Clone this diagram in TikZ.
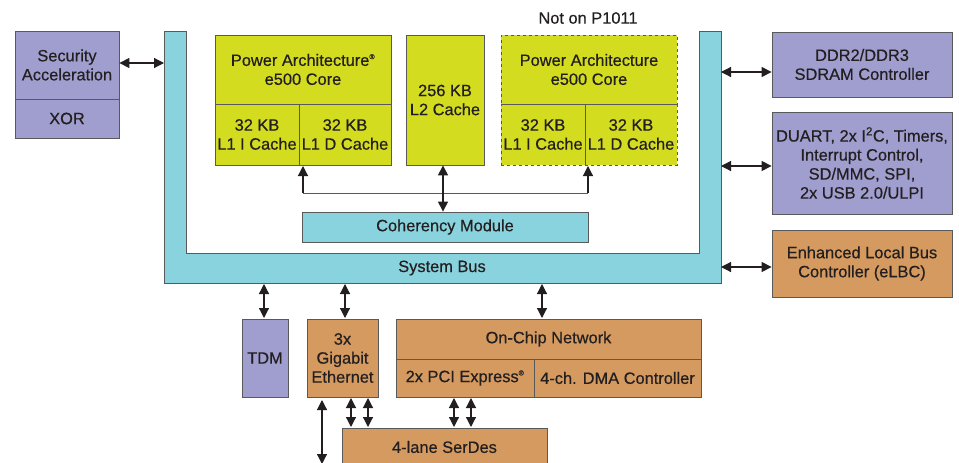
\documentclass[tikz,border=0pt]{standalone}
\usepackage{fontspec}
\setmainfont{Liberation Sans}[BoldFont=Liberation Sans, BoldFeatures={FakeBold=0.5}]
\usetikzlibrary{arrows.meta,calc}
\definecolor{lav}{RGB}{160,158,207}
\definecolor{cyn}{RGB}{137,211,222}
\definecolor{lime}{RGB}{212,220,32}
\definecolor{tan}{RGB}{212,154,96}
\definecolor{txt}{RGB}{35,31,32}
\definecolor{edge}{RGB}{88,89,91}
\newcommand\myfs{\fontsize{16.4}{19}\selectfont\bfseries}
\tikzset{
  blk/.style={draw=edge, line width=0.8pt, inner sep=0pt, align=center, text=txt, font=\myfs},
  lavbox/.style={blk, fill=lav},
  cynbox/.style={blk, fill=cyn},
  limebox/.style={blk, fill=lime},
  tanbox/.style={blk, fill=tan},
  dbl/.style={{Triangle[length=10pt,width=10pt]}-{Triangle[length=10pt,width=10pt]}, line width=1.2pt, draw=txt},
  sgl/.style={-{Triangle[length=10pt,width=10pt]}, line width=1.2pt, draw=txt},
}
\begin{document}
\begin{tikzpicture}[x=1pt,y=-1pt]
\useasboundingbox (0,0) rectangle (959,463);
% system bus
\draw[draw=edge, line width=0.8pt, fill=cyn] (164,31) -- (186,31) -- (186,253) -- (699,253) -- (699,31) -- (721,31) -- (721,283) -- (164,283) -- cycle;
\node[text=txt, font=\myfs] (bus) at (442,268) {System Bus};
\coordinate (busL) at (164,63);
\coordinate (busR1) at (721,72);
\coordinate (busR2) at (721,166);
\coordinate (busR3) at (721,267);
% left
\node[lavbox, minimum width=104pt, minimum height=68pt] (sec) at (67,65) {Security\\Acceleration};
\node[lavbox, minimum width=104pt, minimum height=39pt] (xor) at (67,118.5) {XOR};
% core 1
\node[limebox, minimum width=176pt, minimum height=69pt] (core1) at (303,69.5) {Power Architecture\textsuperscript{\raisebox{0.5pt}{\scriptsize\textregistered}}\\e500 Core};
\node[limebox, minimum width=84pt, minimum height=61pt] (c1i) at (257,134.5) {32 KB\\L1 I Cache};
\node[limebox, minimum width=92pt, minimum height=61pt] (c1d) at (345,134.5) {32 KB\\L1 D Cache};
% L2
\node[limebox, minimum width=78pt, minimum height=130pt] (l2) at (445,100) {256 KB\\L2 Cache};
% core 2
\node[text=txt, font=\myfs] (notp) at (588,18) {Not on P1011};
\node[limebox, dashed, minimum width=176pt, minimum height=69pt] (core2) at (589,69.5) {Power Architecture\\e500 Core};
\node[limebox, dashed, minimum width=84pt, minimum height=61pt] (c2i) at (543,134.5) {32 KB\\L1 I Cache};
\node[limebox, dashed, minimum width=92pt, minimum height=61pt] (c2d) at (631,134.5) {32 KB\\L1 D Cache};
\draw[draw=edge, line width=0.8pt] (585,104) -- (585,165);
\draw[draw=edge, line width=0.8pt] (501,104) -- (677,104);
% coherency
\node[cynbox, minimum width=286pt, minimum height=30pt] (coh) at (445,227) {Coherency Module};
% right
\node[lavbox, minimum width=180pt, minimum height=65pt] (ddr) at (862,64.5) {DDR2/DDR3\\SDRAM Controller};
\node[lavbox, minimum width=180pt, minimum height=102pt] (duart) at (862,163) {DUART, 2x I\textsuperscript{2}C, Timers,\\Interrupt Control,\\SD/MMC, SPI,\\2x USB 2.0/ULPI};
\node[tanbox, minimum width=180pt, minimum height=67pt] (elbc) at (862,263.5) {Enhanced Local Bus\\Controller (eLBC)};
% bottom
\node[lavbox, minimum width=46pt, minimum height=78pt] (tdm) at (265,358) {TDM};
\node[tanbox, minimum width=71pt, minimum height=78pt] (eth) at (342.5,358) {3x\\Gigabit\\Ethernet};
\node[tanbox, minimum width=305pt, minimum height=40pt] (ocn) at (548.5,339) {On-Chip Network};
\node[tanbox, minimum width=138pt, minimum height=38pt] (pci) at (465,378) {2x PCI Express\textsuperscript{\raisebox{0.5pt}{\scriptsize\textregistered}}};
\node[tanbox, minimum width=167pt, minimum height=38pt] (dma) at (617.5,378) {4-ch. DMA Controller};
\node[tanbox, minimum width=205pt, minimum height=38pt] (serdes) at (444.5,447) {4-lane SerDes};
\coordinate (ext) at (322,464);
% connectors
\draw[dbl] (sec.east |- busL) -- (busL);
\draw[dbl] (busR1) -- (busR1 -| ddr.west);
\draw[dbl] (busR2) -- (busR2 -| duart.west);
\draw[dbl] (busR3) -- (busR3 -| elbc.west);
\draw[dbl] (264,284) -- (264,318);
\draw[dbl] (345,284) -- (345,318);
\draw[dbl] (542,284) -- (542,318);
\draw[dbl] (351,398) -- (351,427);
\draw[dbl] (368,398) -- (368,427);
\draw[dbl] (454,398) -- (454,427);
\draw[dbl] (471,398) -- (471,427);
\draw[dbl] (322,400) -- (ext);
% coherency connectors
\coordinate (hl) at (303,193);
\coordinate (hr) at (588,193);
\draw[line width=0.9pt, draw=edge] (hl) -- (hr);
\draw[sgl] (hl) -- (303,166);
\draw[sgl] (hr) -- (588,166);
\draw[dbl] (l2.south -| 443,0) -- (coh.north -| 443,0);
\end{tikzpicture}
\end{document}
